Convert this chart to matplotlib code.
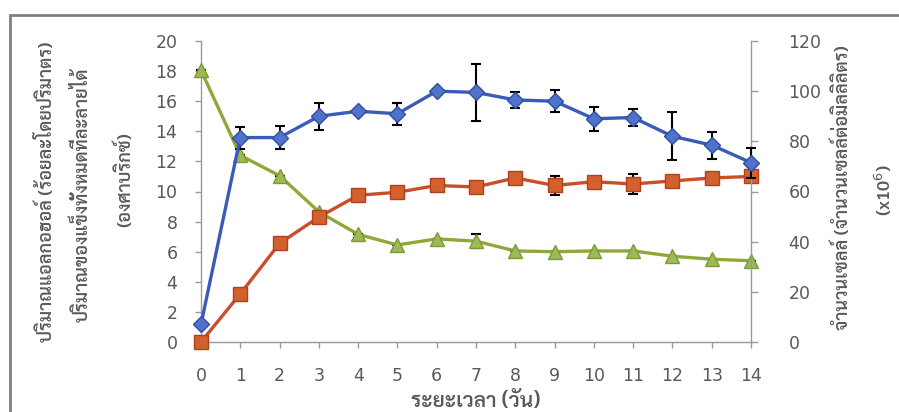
import matplotlib
matplotlib.use("Agg")
import matplotlib.pyplot as plt
from matplotlib import font_manager
from matplotlib.patches import Rectangle

# pick a Thai-capable family that is actually installed
installed = {f.name for f in font_manager.fontManager.ttflist}
thai_font = next((n for n in ["Sarabun", "Noto Sans Thai Looped", "Noto Sans Thai",
                              "Athiti", "Bai Jamjuree", "Anuphan", "Chakra Petch"]
                  if n in installed), "DejaVu Sans")

days = list(range(15))

# alcohol content (% v/v), left axis
alcohol = [0, 3.2, 6.55, 8.3, 9.75, 9.95, 10.4, 10.3, 10.9, 10.4, 10.65, 10.5, 10.7, 10.9, 11.0]
alcohol_err = [0, 0, 0, 0.1, 0, 0, 0, 0, 0, 0.66, 0, 0.66, 0, 0, 0]

# total soluble solids (°Brix), left axis
brix = [18.05, 12.4, 11.05, 8.65, 7.15, 6.45, 6.85, 6.7, 6.05, 6.0, 6.05, 6.05, 5.7, 5.5, 5.4]
brix_err = [0, 0, 0, 0, 0, 0, 0, 0.45, 0, 0, 0, 0, 0, 0, 0]

# cell count (x10^6 cells/ml), right axis
cells = [7, 81.5, 81.5, 90, 92, 91, 100, 99.5, 96.5, 96, 89, 89.5, 82, 78.5, 71.5]
cells_err = [0, 4.4, 4.7, 5.3, 0.8, 4.4, 0.5, 11.2, 3.2, 4.5, 4.8, 3.3, 9.6, 5.4, 6.0]

left_ticks = list(range(0, 21, 2))
right_ticks = list(range(0, 121, 20))

grey = "#595959"

fig = plt.figure(figsize=(8.99, 4.12), dpi=100)
fig.patches.append(Rectangle((10 / 899, -0.1), 1.1, 0.1 + (412 - 15) / 412,
                             transform=fig.transFigure, fill=False,
                             edgecolor="#7f7f7f", linewidth=2))

ax = fig.add_axes([201 / 899, 1 - 342 / 412, 550 / 899, 301 / 412])
ax2 = ax.twinx()

line_kw = dict(linewidth=2.4, clip_on=False, ecolor="black",
               elinewidth=1.5, capsize=3.5, capthick=1.5)

ax.errorbar(days, brix, yerr=brix_err, color="#8fa83a", marker="^", markersize=10,
            markerfacecolor="#9bbb59", markeredgecolor="#7f9a30", zorder=3, **line_kw)
ax.errorbar(days, alcohol, yerr=alcohol_err, color="#c84f2a", marker="s", markersize=10,
            markerfacecolor="#d2612e", markeredgecolor="#b0401e", zorder=4, **line_kw)
ax2.errorbar(days, cells, yerr=cells_err, color="#3a5bb7", marker="D", markersize=8,
             markerfacecolor="#5072c9", markeredgecolor="#2f4ea6", zorder=5, **line_kw)

ax.set_xlim(0, 14)
ax.set_ylim(0, 20)
ax2.set_ylim(0, 120)
ax.set_xticks(days)
ax.set_yticks(left_ticks)
ax2.set_yticks(right_ticks)

for a in (ax, ax2):
    a.spines["top"].set_visible(False)
    for s in ("left", "right", "bottom"):
        a.spines[s].set_color("#9a9a9a")
        a.spines[s].set_linewidth(1)
    a.set_facecolor("none")
ax.spines["right"].set_visible(False)
ax2.spines["left"].set_visible(False)
ax2.spines["bottom"].set_visible(False)

ax.tick_params(axis="y", direction="out", length=4, width=1, color="#9a9a9a",
               pad=13, labelsize=12.5, labelcolor=grey)
ax.tick_params(axis="x", direction="out", length=4, width=1, color="#9a9a9a",
               pad=14, labelsize=12.5, labelcolor=grey)
ax2.tick_params(axis="y", direction="out", length=5, width=1, color="#9a9a9a",
                pad=22, labelsize=12.5, labelcolor=grey)

tkw = dict(family=[thai_font, "DejaVu Sans"], color=grey, fontsize=13,
           fontweight="semibold", rotation=90, ha="center", va="center")
fig.text(46 / 899, 1 - 192 / 412, "ปริมาณแอลกอฮอล์ (ร้อยละโดยปริมาตร)", **tkw)
fig.text(82 / 899, 1 - 195 / 412, "ปริมาณของแข็งทั้งหมดที่ละลายได้", **tkw)
fig.text(124 / 899, 1 - 180 / 412, "(องศาบริกซ์)", **tkw)
fig.text(842 / 899, 1 - 188 / 412, "จำนวนเซลล์ (จำนวนเซลล์ต่อมิลลิลิตร)", **tkw)
fig.text(884 / 899, 1 - 190 / 412, "(x10$^{6}$)", **tkw)
fig.text(476 / 899, 1 - 402 / 412, "ระยะเวลา (วัน)",
         **{**tkw, "rotation": 0, "fontsize": 15})

fig.savefig("out.png", dpi=100)
